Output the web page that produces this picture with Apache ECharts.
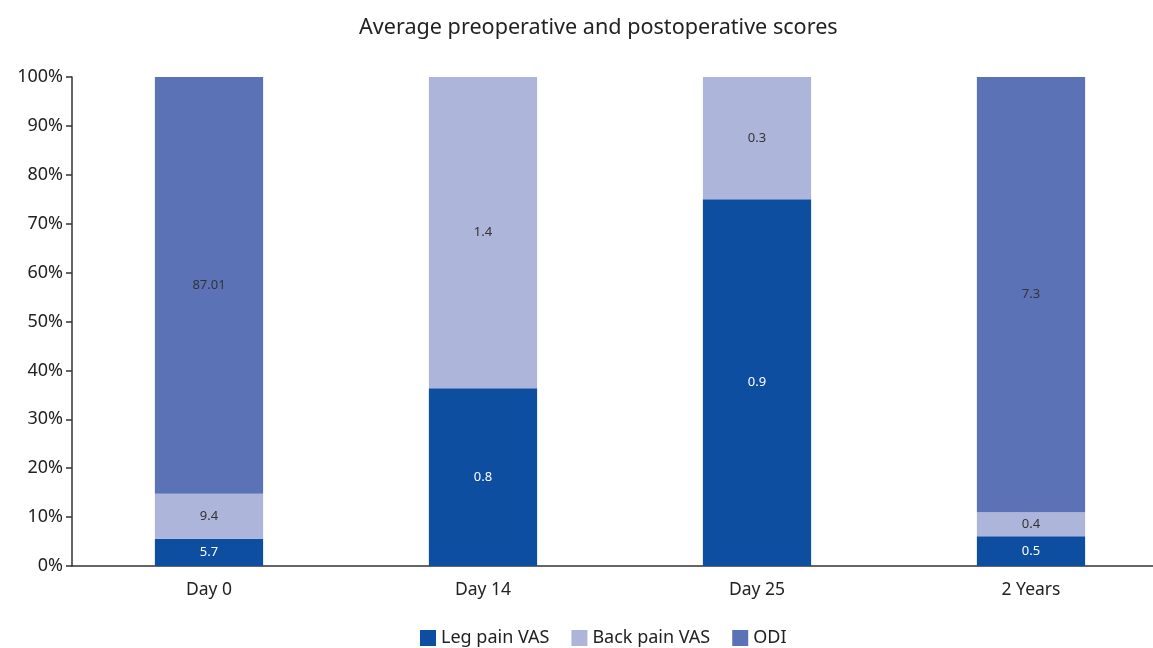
<!DOCTYPE html>
<html>
<head>
<meta charset="utf-8">
<script src="https://cdn.jsdelivr.net/npm/echarts@6/dist/echarts.min.js"></script>
<style>
  html, body { margin: 0; padding: 0; background: #fff; overflow: hidden; }
  /* plot area runs past the right edge of the view */
  #chart { width: 1168px; height: 648px; }
</style>
</head>
<body>
<div id="chart"></div>
<script>
// Time points and mean scores per measure (ODI not recorded at Day 14 / Day 25)
const categories = ['Day 0', 'Day 14', 'Day 25', '2 Years'];
const legPainVAS = [5.7, 0.8, 0.9, 0.5];
const backPainVAS = [9.4, 1.4, 0.3, 0.4];
const odi = [87.01, null, null, 7.3];
const yTickLabels = ['0%', '10%', '20%', '30%', '40%', '50%', '60%', '70%', '80%', '90%', '100%'];

const seriesDefs = [
  { name: 'Leg pain VAS', values: legPainVAS, color: '#0d4ea1', text: '#ffffff' },
  { name: 'Back pain VAS', values: backPainVAS, color: '#aeb5da', text: '#333333' },
  { name: 'ODI', values: odi, color: '#5b72b6', text: '#333333' }
];

// Column totals for 100% stacking
const totals = categories.map((_, i) =>
  seriesDefs.reduce((s, d) => s + (d.values[i] || 0), 0));

const FONT = '"Noto Sans", sans-serif';

const series = seriesDefs.map(d => ({
  name: d.name,
  type: 'bar',
  stack: 'total',
  barWidth: '39.5%',
  itemStyle: { color: d.color },
  label: {
    show: true,
    position: 'inside',
    color: d.text,
    fontFamily: FONT,
    fontSize: 13,
    formatter: p => {
      const raw = d.values[p.dataIndex];
      return raw == null ? '' : String(raw);
    }
  },
  data: d.values.map((v, i) => v == null ? null : (v / totals[i]) * 100)
}));

const chart = echarts.init(document.getElementById('chart'), null, { renderer: 'canvas' });
chart.setOption({
  animation: false,
  backgroundColor: '#ffffff',
  title: {
    text: 'Average preoperative and postoperative scores',
    left: 354,
    top: 12,
    textStyle: { fontFamily: FONT, fontSize: 21.6, fontWeight: 'normal', color: '#222222' }
  },
  legend: {
    top: 624,
    left: 415,
    icon: 'rect',
    itemWidth: 16,
    itemHeight: 16,
    itemGap: 22,
    textStyle: { fontFamily: FONT, fontSize: 18, color: '#222222' },
    data: seriesDefs.map(d => d.name)
  },
  grid: { left: 72, right: 0, top: 77, bottom: 82, containLabel: false },
  xAxis: {
    type: 'category',
    data: categories,
    axisLine: { lineStyle: { color: '#333333', width: 1.5 } },
    axisTick: { show: false },
    axisLabel: { fontFamily: FONT, fontSize: 17.5, color: '#222222', margin: 15 }
  },
  yAxis: {
    type: 'value',
    min: 0,
    max: 100,
    interval: 10,
    splitLine: { show: false },
    axisLine: { show: true, lineStyle: { color: '#333333', width: 1.5 } },
    axisTick: { show: true, length: 6, lineStyle: { color: '#333333', width: 1.5 } },
    axisLabel: {
      fontFamily: FONT,
      fontSize: 18,
      color: '#222222',
      margin: 9,
      formatter: v => yTickLabels[Math.round(v / 10)]
    }
  },
  series: series
});
</script>
</body>
</html>
